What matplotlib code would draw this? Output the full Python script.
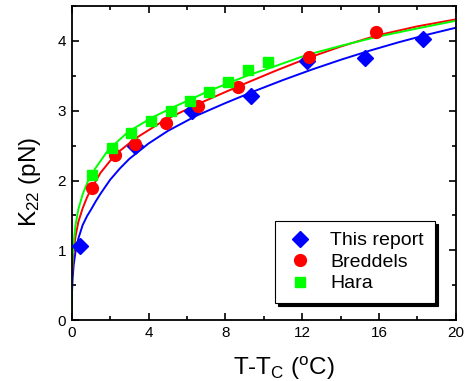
import numpy as np
import matplotlib.pyplot as plt
from matplotlib.ticker import MultipleLocator

plt.rcParams['font.family'] = ['Liberation Sans', 'DejaVu Sans']
plt.rcParams['mathtext.fontset'] = 'custom'
plt.rcParams['mathtext.rm'] = 'Liberation Sans'
plt.rcParams['mathtext.it'] = 'Liberation Sans:italic'

x_this = [0.43, 3.3, 6.25, 9.32, 12.27, 15.28, 18.31]
k_this = [1.06, 2.49, 3.00, 3.21, 3.71, 3.76, 4.03]

x_bred = [1.04, 2.26, 3.30, 4.91, 6.60, 8.65, 12.36, 15.85]
k_bred = [1.89, 2.37, 2.53, 2.83, 3.07, 3.34, 3.77, 4.13]

x_hara = [1.04, 2.08, 3.09, 4.13, 5.17, 6.16, 7.17, 8.16, 9.20, 10.20]
k_hara = [2.08, 2.46, 2.68, 2.85, 2.99, 3.14, 3.27, 3.41, 3.58, 3.70]

# fitted curves
xfit_this = [0, 0.02, 0.05, 0.1, 0.2, 0.35, 0.57, 0.8, 1.0, 1.25, 1.5, 2.0, 2.5, 3.0, 4.0, 5.0, 6.5, 8.0, 9.5, 11.0, 12.5, 14.0, 15.5, 17.0, 18.5, 20.0]
kfit_this = [0, 0.42, 0.60, 0.78, 0.98, 1.17, 1.36, 1.49, 1.58, 1.70, 1.81, 2.01, 2.17, 2.31, 2.53, 2.71, 2.93, 3.11, 3.28, 3.44, 3.59, 3.73, 3.86, 3.98, 4.09, 4.19]

xfit_bred = [0, 0.02, 0.05, 0.1, 0.2, 0.35, 0.57, 0.8, 1.0, 1.5, 2.26, 3.3, 4.86, 6.6, 8.68, 10.5, 12.24, 14.0, 15.9, 18.0, 20.0]
kfit_bred = [0, 0.62, 0.81, 0.98, 1.20, 1.41, 1.60, 1.76, 1.87, 2.11, 2.37, 2.60, 2.87, 3.10, 3.35, 3.56, 3.75, 3.92, 4.08, 4.21, 4.31]

xfit_hara = [0, 0.02, 0.05, 0.1, 0.2, 0.35, 0.57, 0.83, 1.22, 1.91, 2.95, 4.17, 5.21, 7.11, 9.2, 10.5, 12.24, 14.0, 15.9, 18.0, 20.0]
kfit_hara = [0, 0.72, 0.91, 1.10, 1.36, 1.59, 1.80, 1.98, 2.17, 2.44, 2.70, 2.90, 3.04, 3.28, 3.51, 3.63, 3.80, 3.93, 4.06, 4.18, 4.29]

labels = ['This report', 'Breddels', 'Hara']
colors = ['#0000ff', '#ff0000', '#00ff00']
markers = ['D', 'o', 's']
msizes = [8, 8.5, 7.5]

fig = plt.figure(figsize=(4.7, 3.81), dpi=100)
ax = fig.add_axes([0.1525, 0.160, 0.8175, 0.824])

fits = [(xfit_this, kfit_this), (xfit_bred, kfit_bred), (xfit_hara, kfit_hara)]
for (x, k), c in zip(fits, colors):
    ax.plot(x, k, color=c, lw=1.4, zorder=2)

series = [(x_this, k_this), (x_bred, k_bred), (x_hara, k_hara)]
handles = []
for (x, k), c, m, ms, lab in zip(series, colors, markers, msizes, labels):
    h, = ax.plot(x, k, ls='none', marker=m, ms=ms, color=c, mec=c, label=lab, zorder=3)
    handles.append(h)

ax.set_xlim(0, 20)
ax.set_ylim(0, 4.5)
ax.xaxis.set_major_locator(MultipleLocator(4))
ax.xaxis.set_minor_locator(MultipleLocator(2))
ax.yaxis.set_major_locator(MultipleLocator(1))
ax.yaxis.set_minor_locator(MultipleLocator(0.5))
ax.tick_params(which='both', direction='in', top=True, right=True, width=1.2)
ax.tick_params(which='major', length=5, labelsize=11, pad=4)
ax.tick_params(which='minor', length=3)
for s in ax.spines.values():
    s.set_linewidth(1.3)

ax.set_xlabel('T-T$_\\mathrm{C}$ ($^\\mathrm{o}$C)', fontsize=17.5)
ax.set_ylabel('K$_{22}$ (pN)', fontsize=17.5)
ax.xaxis.set_label_coords(0.552, -0.11)
ax.yaxis.set_label_coords(-0.074, 0.44)

leg = ax.legend(handles=handles, loc='lower right', bbox_to_anchor=(0.945, 0.054),
                borderaxespad=0, fontsize=14, frameon=True, fancybox=False,
                shadow={'color': 'black', 'alpha': 1.0}, edgecolor='black',
                handlelength=1.5, handletextpad=0.8, borderpad=0.55, labelspacing=0.2)
leg.get_frame().set_linewidth(0.8)

plt.savefig('out.png', dpi=100)
